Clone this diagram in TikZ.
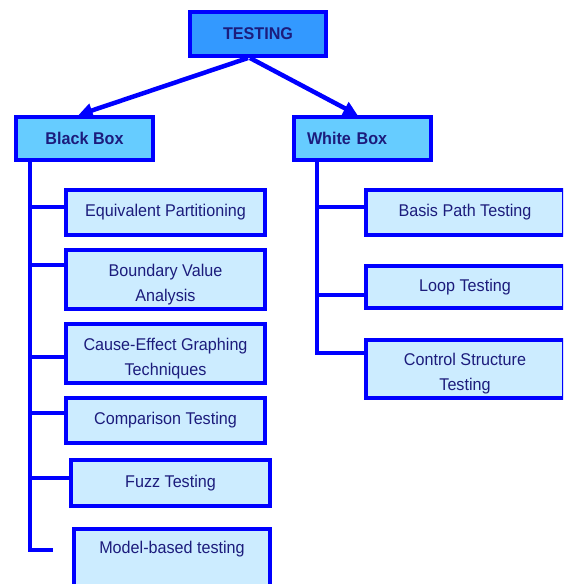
\documentclass[tikz,border=0pt]{standalone}
\usepackage{fontspec}
\setmainfont{Liberation Sans}[FakeStretch=0.95]
\usetikzlibrary{arrows.meta}
\definecolor{bord}{HTML}{0000FF}
\definecolor{txt}{HTML}{1C1C7C}
\definecolor{topfill}{HTML}{3399FF}
\definecolor{midfill}{HTML}{66CCFF}
\definecolor{leaffill}{HTML}{CCECFF}
\newcommand{\lowstrut}{\rule{0pt}{22pt}}
\begin{document}
\begin{tikzpicture}[x=1pt,y=-1pt,
  box/.style={draw=bord, line width=4pt, text=txt, font=\fontsize{17}{25}\selectfont, align=center, inner sep=0pt},
  topbox/.style={box, fill=topfill, font=\fontsize{17}{25}\selectfont\bfseries},
  midbox/.style={box, fill=midfill, font=\fontsize{17}{25}\selectfont\bfseries, minimum width=137pt, minimum height=43pt},
  leaf/.style={box, fill=leaffill, minimum width=199pt},
  conn/.style={draw=bord, line width=3.5pt},
  arr/.style={draw=bord, line width=4.5pt, -{Triangle[length=14pt,width=14pt]}}]
\clip (0,0) rectangle (563,584);
% nodes
\node[topbox, minimum width=136pt, minimum height=44pt] (t) at (258,34) {TESTING};
\node[midbox] (bb) at (84.5,138.5) {Black Box};
\node[midbox, text width=111pt, align=left, inner xsep=13pt] (wb) at (362.5,138.5) {White Box};
\node[leaf, minimum height=45pt] (ep) at (165.5,212.5) {Equivalent Partitioning};
\node[leaf, minimum height=59pt] (bva) at (165.5,279.5) {\lowstrut Boundary Value\\Analysis};
\node[leaf, minimum height=59pt] (ce) at (165.5,353.5) {\lowstrut Cause-Effect Graphing\\Techniques};
\node[leaf, minimum height=45pt] (ct) at (165.5,420.5) {Comparison Testing};
\node[leaf, minimum height=46pt] (fz) at (170.5,483) {Fuzz Testing};
\node[leaf, minimum width=196pt, minimum height=75pt, anchor=north, text height=12pt, text depth=39pt] (mbt) at (172,527) {Model-based testing};
\node[leaf, minimum width=198pt, minimum height=45pt] (bp) at (465,212.5) {Basis Path Testing};
\node[leaf, minimum width=198pt, minimum height=42pt] (lt) at (465,287) {Loop Testing};
\node[leaf, minimum width=198pt, minimum height=58pt] (cst) at (465,369) {\lowstrut Control Structure\\Testing};
% arrows
\draw[arr] ([xshift=-10pt]t.south) -- ([xshift=-6pt]bb.north);
\draw[arr] ([xshift=-8pt]t.south) -- ([xshift=-5pt]wb.north);
% black box tree
\coordinate (bt) at (30,550);
\coordinate (be) at (53,550);
\coordinate (b1) at (30,207);
\coordinate (b2) at (30,265);
\coordinate (b3) at (30,357);
\coordinate (b4) at (30,413);
\coordinate (b5) at (30,478);
\draw[conn] (bb.south -| bt) -- (bt) -- (be);
\draw[conn] (b1) -- (ep.west |- b1);
\draw[conn] (b2) -- (bva.west |- b2);
\draw[conn] (b3) -- (ce.west |- b3);
\draw[conn] (b4) -- (ct.west |- b4);
\draw[conn] (b5) -- (fz.west |- b5);
% white box tree
\coordinate (wt) at (317,353);
\coordinate (w1) at (317,207);
\coordinate (w2) at (317,295);
\draw[conn] (wb.south -| wt) -- (wt) -- (cst.west |- wt);
\draw[conn] (w1) -- (bp.west |- w1);
\draw[conn] (w2) -- (lt.west |- w2);
\end{tikzpicture}
\end{document}
